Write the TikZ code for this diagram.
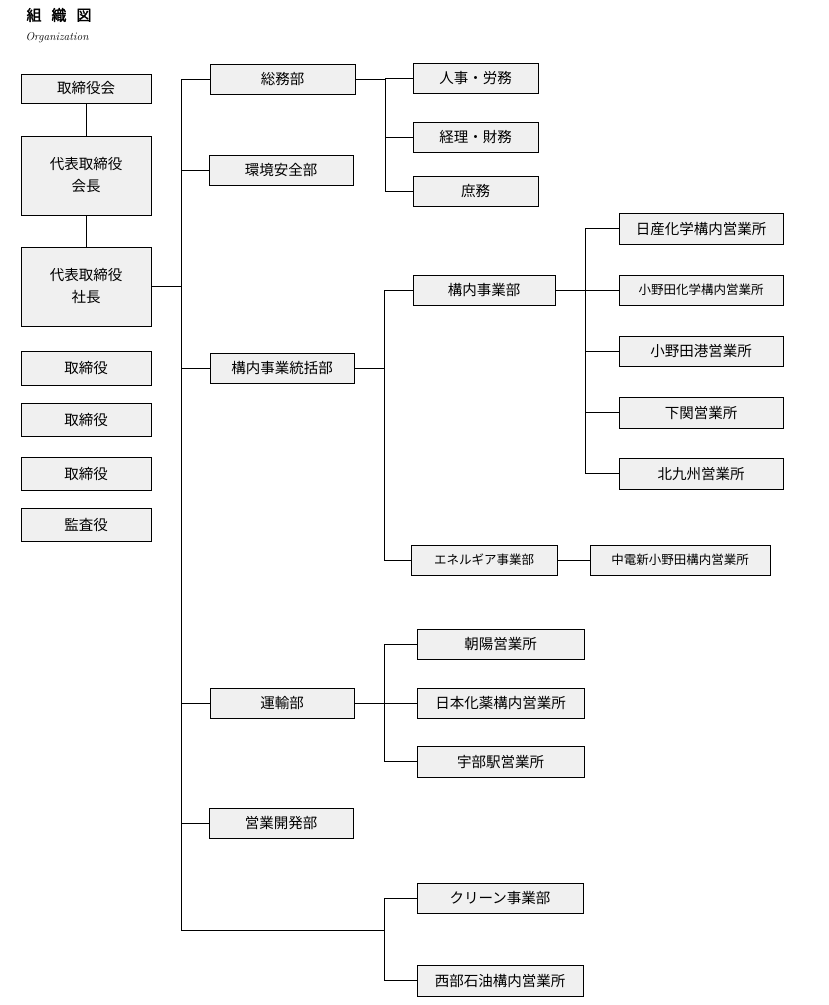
\documentclass[tikz,border=0pt]{standalone}
\usepackage{fontspec}
\newfontfamily\jp{Noto Sans CJK JP}
\newfontfamily\jpb{Noto Sans CJK JP}[FakeBold=2]
\begin{document}
\begin{tikzpicture}[x=1pt,y=-1pt,
  bx/.style={draw,fill=gray!12,line width=0.8pt,font=\jp\fontsize{14.5}{16}\selectfont,inner sep=0pt},
  sm/.style={font=\jp\fontsize{12.5}{14}\selectfont},
  ln/.style={line width=0.6pt}]
\useasboundingbox (0,0) rectangle (829,1005);
\node[font=\jpb\fontsize{15}{17}\selectfont,anchor=west] (title) at (23,15) {組\hspace{10pt}織\hspace{10pt}図};
\node[font=\itshape\fontsize{11.5}{13}\selectfont,anchor=west] (org) at (22,38) {Organization};
\newcommand\bxn[6]{\node[bx,#6,minimum width=#4-#2,minimum height=#5-#3] (#1) at ({(#2+#4)/2},{(#3+#5)/2})}
\bxn{tk}{21}{74}{151}{103}{}{取締役会};
\bxn{kc}{21}{136}{151}{215}{align=center}{代表取締役\\[6pt]会長};
\bxn{sc}{21}{247}{151}{326}{align=center}{代表取締役\\[6pt]社長};
\bxn{t1}{21}{351}{151}{385}{}{取締役};
\bxn{t2}{21}{403}{151}{436}{}{取締役};
\bxn{t3}{21}{457}{151}{490}{}{取締役};
\bxn{ks}{21}{508}{151}{541}{}{監査役};
\draw[ln] (tk) -- (kc); \draw[ln] (kc) -- (sc);
% departments
\bxn{som}{210}{64}{355}{94}{}{総務部};
\bxn{kan}{209}{155}{353}{185}{}{環境安全部};
\bxn{kt}{210}{353}{354}{383}{}{構内事業統括部};
\bxn{uy}{210}{688}{354}{718}{}{運輸部};
\bxn{ek}{209}{808}{353}{838}{}{営業開発部};
\coordinate (tr1) at (181,79); \coordinate (tr2) at (181,930);
\draw[ln] (sc.east) -- (181,286.5);
\draw[ln] (tr1) -- (tr2);
\foreach \n in {som,kan,kt,uy,ek} \draw[ln] (\n.west) -- (\n.west-|tr1);
% somu
\bxn{jj}{413}{63}{538}{93}{}{人事・労務};
\bxn{kr}{413}{122}{538}{152}{}{経理・財務};
\bxn{sh}{413}{176}{538}{206}{}{庶務};
\coordinate (v1) at (385,79);
\draw[ln] (som.east) -- (v1) -- (v1|-sh.west);
\foreach \n in {jj,kr,sh} \draw[ln] (\n.west) -- (\n.west-|v1);
% kounai
\bxn{kj}{413}{275}{555}{305}{}{構内事業部};
\bxn{en}{411}{545}{557}{575}{sm}{エネルギア事業部};
\bxn{cd}{590}{545}{770}{575}{sm}{中電新小野田構内営業所};
\coordinate (v2) at (384,368);
\draw[ln] (kt.east) -- (v2); \draw[ln] (v2|-kj.west) -- (v2|-en.west);
\draw[ln] (kj.west) -- (kj.west-|v2); \draw[ln] (en.west) -- (en.west-|v2);
\draw[ln] (en) -- (cd);
\bxn{ns}{619}{213}{783}{244}{}{日産化学構内営業所};
\bxn{ok}{619}{275}{783}{305}{sm}{小野田化学構内営業所};
\bxn{ot}{619}{336}{783}{366}{}{小野田港営業所};
\bxn{sm}{619}{397}{783}{428}{}{下関営業所};
\bxn{kk}{619}{458}{783}{489}{}{北九州営業所};
\coordinate (v3) at (585,290);
\draw[ln] (kj.east) -- (v3); \draw[ln] (v3|-ns.west) -- (v3|-kk.west);
\foreach \n in {ns,ok,ot,sm,kk} \draw[ln] (\n.west) -- (\n.west-|v3);
% unyu
\bxn{cy}{417}{629}{584}{659}{}{朝陽営業所};
\bxn{nk}{417}{688}{584}{718}{}{日本化薬構内営業所};
\bxn{ub}{417}{746}{584}{777}{}{宇部駅営業所};
\coordinate (v4) at (384,703);
\draw[ln] (uy.east) -- (v4); \draw[ln] (v4|-cy.west) -- (v4|-ub.west);
\foreach \n in {cy,nk,ub} \draw[ln] (\n.west) -- (\n.west-|v4);
% bottom
\bxn{cl}{417}{883}{583}{913}{}{クリーン事業部};
\bxn{sb}{417}{965}{583}{996}{}{西部石油構内営業所};
\coordinate (v5) at (384,930);
\draw[ln] (tr2) -- (v5); \draw[ln] (v5|-cl.west) -- (v5|-sb.west);
\foreach \n in {cl,sb} \draw[ln] (\n.west) -- (\n.west-|v5);
\end{tikzpicture}
\end{document}
